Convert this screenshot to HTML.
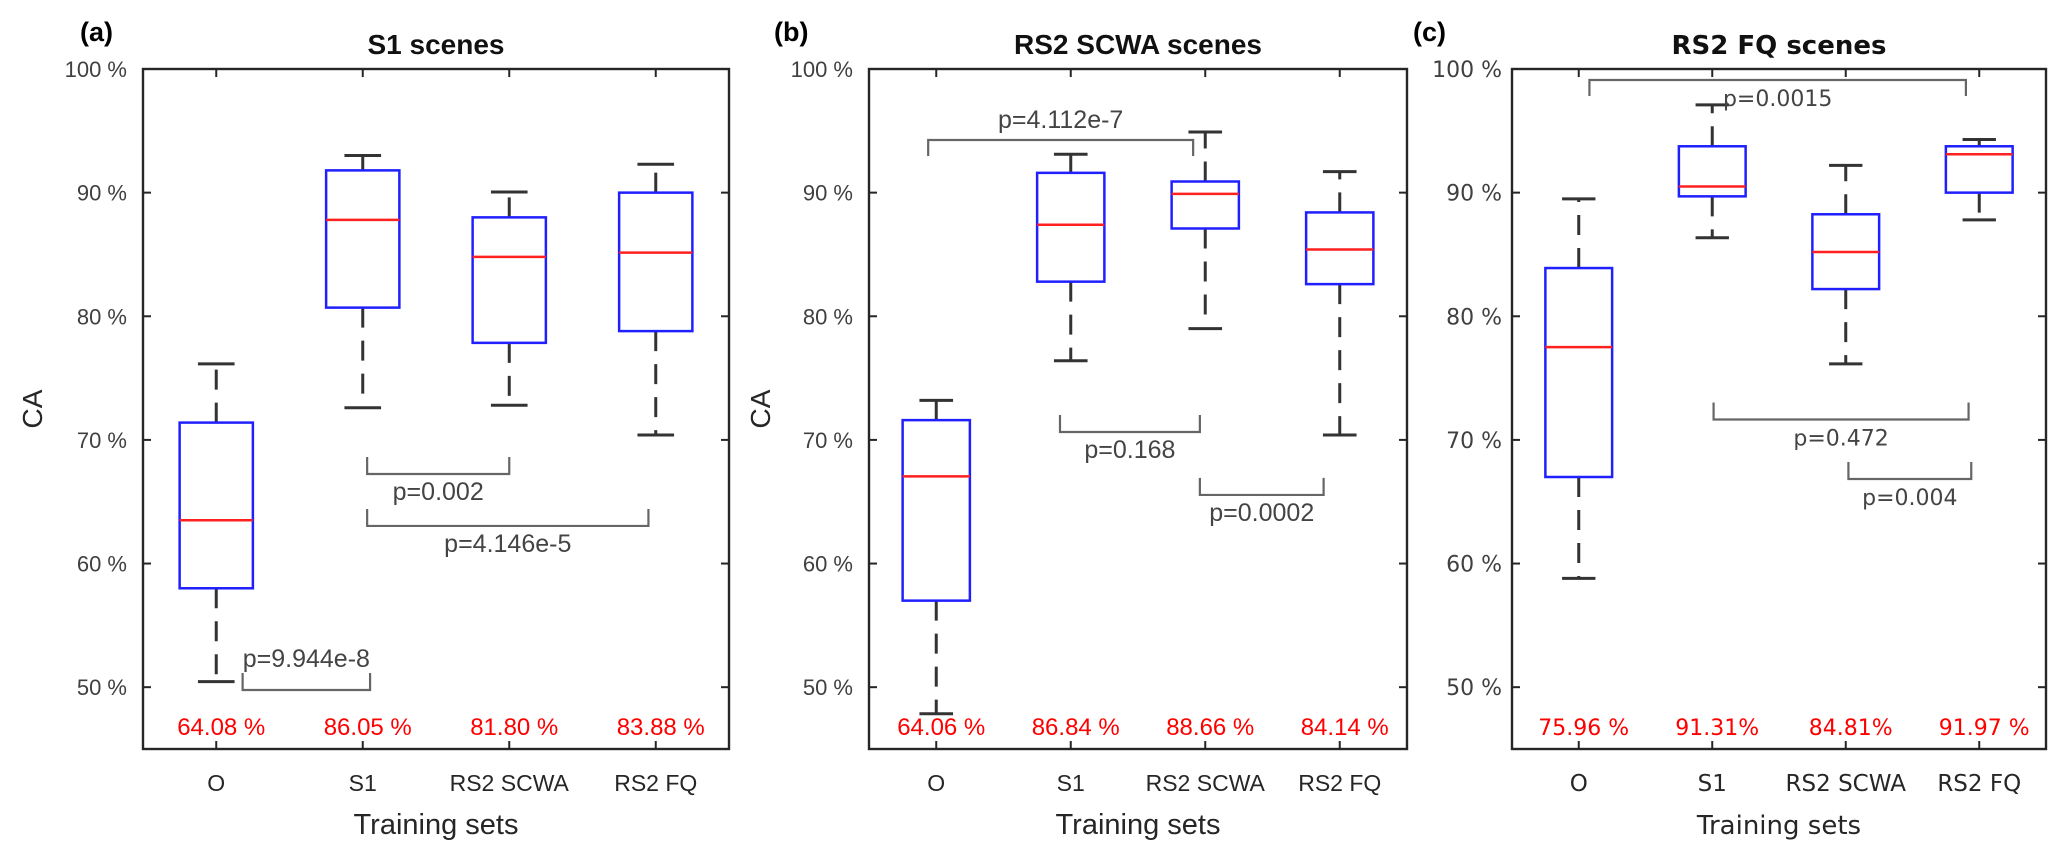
<!DOCTYPE html>
<html><head><meta charset="utf-8">
<style>
html,body{margin:0;padding:0;background:#fff;}
svg{display:block;}
</style></head>
<body>
<svg id="chart" width="2067" height="859" viewBox="0 0 2067 859" xmlns="http://www.w3.org/2000/svg"></svg>
<script>
// ---- data ----
const categories = ["O", "S1", "RS2  SCWA", "RS2 FQ"];
const yTicks = [50, 60, 70, 80, 90, 100];
// [whiskerLow, q1, median, q3, whiskerHigh]
const boxesA = [[50.45, 58.0, 63.5, 71.4, 76.15],[72.6, 80.7, 87.8, 91.8, 93.0],[72.8, 77.85, 84.8, 88.0, 90.05],[70.4, 78.8, 85.15, 90.0, 92.3]];
const boxesB = [[47.85, 57.0, 67.05, 71.6, 73.2],[76.4, 82.8, 87.4, 91.6, 93.1],[79.0, 87.1, 89.9, 90.9, 94.9],[70.4, 82.6, 85.4, 88.4, 91.7]];
const boxesC = [[58.8, 67.0, 77.5, 83.9, 89.5],[86.35, 89.7, 90.5, 93.75, 97.1],[76.15, 82.2, 85.2, 88.25, 92.2],[87.8, 90.0, 93.1, 93.75, 94.3]];
const meansA = ["64.08 %", "86.05 %", "81.80 %", "83.88 %"];
const meansB = ["64.06 %", "86.84 %", "88.66 %", "84.14 %"];
const meansC = ["75.96 %", "91.31%", "84.81%", "91.97 %"];
// significance brackets: [fromCat, toCat, level (%), p label, tips ("up"/"down"), text ("above"/"below")]
const sigA = [[1.18, 2.05, 49.77, "p=9.944e-8", "up", "above"],[2.03, 3.0, 67.24, "p=0.002", "up", "below"],[2.03, 3.95, 63.04, "p=4.146e-5", "up", "below"]];
const sigB = [[0.94, 2.91, 94.26, "p=4.112e-7", "down", "above"],[1.92, 2.96, 70.64, "p=0.168", "up", "below"],[2.96, 3.88, 65.55, "p=0.0002", "up", "below"]];
const sigC = [[1.08, 3.9, 99.11, "p=0.0015", "down", "below"],[2.01, 3.92, 71.65, "p=0.472", "up", "below"],[3.02, 3.94, 66.84, "p=0.004", "up", "below"]];

const svg = document.getElementById('chart');
const NS = 'http://www.w3.org/2000/svg';
function mk(tag, attrs, parent){
  const e = document.createElementNS(NS, tag);
  for (const k in attrs) e.setAttribute(k, attrs[k]);
  (parent||svg).appendChild(e);
  return e;
}
const TOP = 69, BOT = 749, YMIN = 45, YMAX = 100;
function yS(v){ return BOT - (v - YMIN) / (YMAX - YMIN) * (BOT - TOP); }

function panel(cfg){
  const g = mk('g', {});
  
  
  const L = cfg.left, R = cfg.right, step = (R - L) / 4;
  const xS = c => L + (c - 0.5) * step;
  const ff = cfg.font;
  const lt = mk('text', {x: cfg.letterX, y: 41, 'font-family': '"Liberation Sans", sans-serif', 'font-size': 27, 'font-weight': 'bold', fill: '#000'}, g);
  lt.textContent = cfg.letter;
  
  
  const tt = mk('text', {x: (L + R) / 2, y: 54, 'text-anchor': 'middle', 'font-family': ff, 'font-size': cfg.titleSize, 'font-weight': 'bold', fill: '#111'}, g);
  tt.textContent = cfg.title;
  
  
  yTicks.forEach(v => {
    const y = yS(v);
    const t = mk('line', {x1: L, x2: L + 8, y1: y, y2: y, stroke: '#262626', 'stroke-width': 2}, g);
    
    
    mk('line', {x1: R, x2: R - 8, y1: y, y2: y, stroke: '#262626', 'stroke-width': 2}, g);
    const lb = mk('text', {x: L - cfg.tickGap, y: y + 8, 'text-anchor': 'end', 'font-family': ff, 'font-size': 22, fill: '#404040'}, g);
    lb.textContent = v + ' %';
    
    
  });
  categories.forEach((c, i) => {
    const x = xS(i + 1);
    mk('line', {x1: x, x2: x, y1: BOT, y2: BOT - 8, stroke: '#262626', 'stroke-width': 2}, g);
    mk('line', {x1: x, x2: x, y1: TOP, y2: TOP + 8, stroke: '#262626', 'stroke-width': 2}, g);
    const lb = mk('text', {x: x, y: 791, 'text-anchor': 'middle', 'font-family': ff, 'font-size': 23, fill: '#262626', 'xml:space': 'preserve'}, g);
    lb.textContent = c;
    
    
  });
  cfg.boxes.forEach((b, i) => {
    const x = xS(i + 1), hw = step * 0.25, cw = step * 0.125;
    const bg = mk('g', {}, g);
    
    
    mk('line', {x1: x, x2: x, y1: yS(b[3]), y2: yS(b[4]), stroke: '#333', 'stroke-width': 3, 'stroke-dasharray': '20 13'}, bg);
    mk('line', {x1: x, x2: x, y1: yS(b[1]), y2: yS(b[0]), stroke: '#333', 'stroke-width': 3, 'stroke-dasharray': '20 13'}, bg);
    mk('line', {x1: x - cw, x2: x + cw, y1: yS(b[4]), y2: yS(b[4]), stroke: '#333', 'stroke-width': 3}, bg);
    mk('line', {x1: x - cw, x2: x + cw, y1: yS(b[0]), y2: yS(b[0]), stroke: '#333', 'stroke-width': 3}, bg);
    mk('rect', {x: x - hw, y: yS(b[3]), width: 2 * hw, height: yS(b[1]) - yS(b[3]), fill: 'none', stroke: '#2020ff', 'stroke-width': 2.5}, bg);
    mk('line', {x1: x - hw, x2: x + hw, y1: yS(b[2]), y2: yS(b[2]), stroke: '#ff2020', 'stroke-width': 2.5}, bg);
  });
  cfg.means.forEach((m, i) => {
    const t = mk('text', {x: xS(i + 1) + 5, y: 735, 'text-anchor': 'middle', 'font-family': ff, 'font-size': cfg.meanSize, fill: '#ff0000'}, g);
    t.textContent = m;
    
    
  });
  cfg.sig.forEach(s => {
    const x1 = xS(s[0]), x2 = xS(s[1]), y = yS(s[2]);
    const sg = mk('g', {}, g);
    
    
    const tipY = s[4] === 'down' ? y + 16 : y - 17;
    mk('polyline', {points: `${x1},${tipY} ${x1},${y} ${x2},${y} ${x2},${tipY}`, fill: 'none', stroke: '#666', 'stroke-width': 2.2}, sg);
    let ty;
    if (s[5] === 'above') ty = s[4] === 'up' ? y - 23 : y - 12;
    else ty = y + 26;
    const t = mk('text', {x: (x1 + x2) / 2, y: ty, 'text-anchor': 'middle', 'font-family': ff, 'font-size': cfg.pSize, fill: '#444'}, sg);
    t.textContent = s[3];
  });
  const ax = mk('rect', {x: L, y: TOP, width: R - L, height: BOT - TOP, fill: 'none', stroke: '#262626', 'stroke-width': 2.4}, g);
  
  
  const xt = mk('text', {x: (L + R) / 2, y: 834, 'text-anchor': 'middle', 'font-family': ff, 'font-size': cfg.axisSize, fill: '#262626'}, g);
  xt.textContent = 'Training sets';
  
  
  if (cfg.yTitleX) {
    const yt = mk('text', {x: cfg.yTitleX, y: 409, 'text-anchor': 'middle', 'font-family': ff, 'font-size': 28, fill: '#262626', transform: `rotate(-90 ${cfg.yTitleX} 409)`}, g);
    yt.textContent = 'CA';
    
    
  }
}

panel({name: 'panel-a-s1-scenes', left: 143, right: 729, letter: '(a)', letterX: 80, title: 'S1 scenes', boxes: boxesA, means: meansA, sig: sigA, font: '"Liberation Sans", sans-serif', tickGap: 16, yTitleX: 42, titleSize: 28, meanSize: 24, pSize: 25, axisSize: 29});
panel({name: 'panel-b-rs2-scwa-scenes', left: 869, right: 1407, letter: '(b)', letterX: 774, title: 'RS2 SCWA scenes', boxes: boxesB, means: meansB, sig: sigB, font: '"Liberation Sans", sans-serif', tickGap: 16, yTitleX: 770, titleSize: 28, meanSize: 24, pSize: 25, axisSize: 29});
panel({name: 'panel-c-rs2-fq-scenes', left: 1512, right: 2046, letter: '(c)', letterX: 1413, title: 'RS2 FQ scenes', boxes: boxesC, means: meansC, sig: sigC, font: '"DejaVu Sans", sans-serif', tickGap: 10, yTitleX: null, titleSize: 26, meanSize: 22, pSize: 22, axisSize: 26});
</script>
</body></html>
